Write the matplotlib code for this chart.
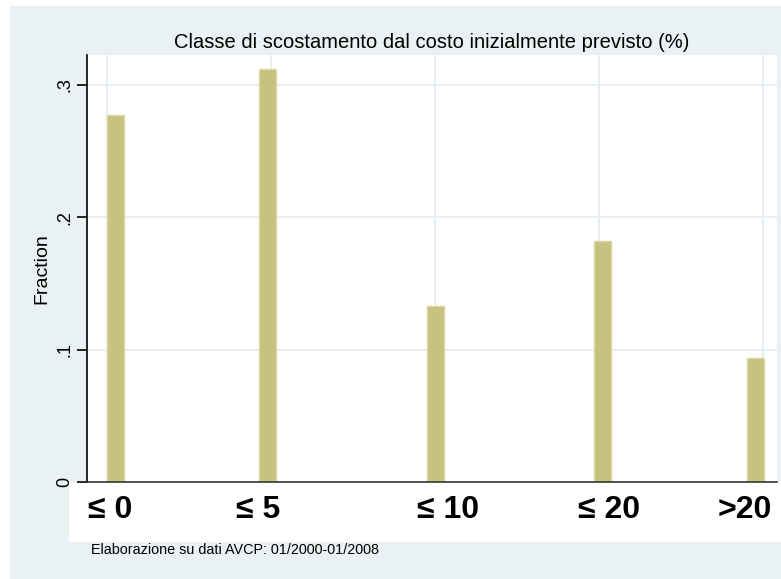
import matplotlib
matplotlib.use("Agg")
import matplotlib.pyplot as plt
from matplotlib.patches import Rectangle

# ============== dati ==============
classi = ["≤ 0", "≤ 5", "≤ 10", "≤ 20", ">20"]
frazione = [0.2774, 0.3122, 0.1333, 0.1822, 0.0937]
bar_pos = [0.05, 0.976, 2.003, 3.021, 3.954]      # posizione delle barre sull'asse x
label_pos = [0.02, 0.92, 2.08, 3.06, 3.89]        # posizione delle etichette
grid_x = [0, 1, 2, 3, 4]
y_ticks = [0, 0.1, 0.2, 0.3]
y_labels = ["0", ".1", ".2", ".3"]

titolo = "Classe di scostamento dal costo inizialmente previsto (%)"
nota = "Elaborazione su dati AVCP: 01/2000-01/2008"

# ============== colori ==============
bg = "#EAF1F3"
grid_col = "#E6EEF1"
bar_col = "#C9C27F"
bar_edge = "#DDD7A6"

plt.rcParams['font.family'] = ['Liberation Sans', 'DejaVu Sans']

W, H = 781, 579
fig = plt.figure(figsize=(W / 100, H / 100), dpi=100)
fig.patch.set_facecolor("white")

# sfondo azzurro (graph region) con margine bianco
fig.patches.append(Rectangle((10 / W, 0), 1 - 10 / W, 1 - 6 / H,
                             transform=fig.transFigure, facecolor=bg,
                             edgecolor="none", zorder=-10))
# riquadro bianco per le etichette dell'asse x
fig.patches.append(Rectangle((69 / W, 1 - 542 / H), 1 - 69 / W, 60 / H,
                             transform=fig.transFigure, facecolor="white",
                             edgecolor="none", zorder=-9))

ax = fig.add_axes([87 / W, 1 - 482 / H, 690 / W, 427 / H])
ax.set_zorder(1)
ax.set_facecolor("white")

for gx in grid_x:
    ax.axvline(gx, color=grid_col, lw=1.3, zorder=1)
for gy in y_ticks[1:]:
    ax.axhline(gy, color=grid_col, lw=1.3, zorder=1)

ax.bar(bar_pos, frazione, width=0.104, color=bar_col, edgecolor=bar_edge,
       linewidth=1.0, zorder=2)

ax.set_xlim(-0.122, 4.085)
ax.set_ylim(0, 0.3227)

ax.set_yticks(y_ticks)
ax.set_yticklabels(y_labels, rotation=90, va="center", fontsize=13)
ax.tick_params(axis="y", length=7, width=1.2, color="black", pad=3)
ax.set_xticks([])

for s in ["top", "right"]:
    ax.spines[s].set_visible(False)
ax.spines["left"].set_color("black")
ax.spines["left"].set_linewidth(1.2)
ax.spines["bottom"].set_color("#333333")
ax.spines["bottom"].set_linewidth(1.2)

# etichette delle classi sotto l'asse
for x, lab in zip(label_pos, classi):
    ax.text(x, -0.0212, lab, ha="center", va="center", fontsize=23,
            fontweight="bold", clip_on=False)

ax.set_ylabel("Fraction", fontsize=14, labelpad=4)
fig.text(432 / W, 1 - 42 / H, titolo, ha="center", va="center", fontsize=14.5)
fig.text(91 / W, 1 - 550 / H, nota, ha="left", va="center", fontsize=10.4)

plt.savefig("out.png", dpi=100, facecolor=fig.get_facecolor())
